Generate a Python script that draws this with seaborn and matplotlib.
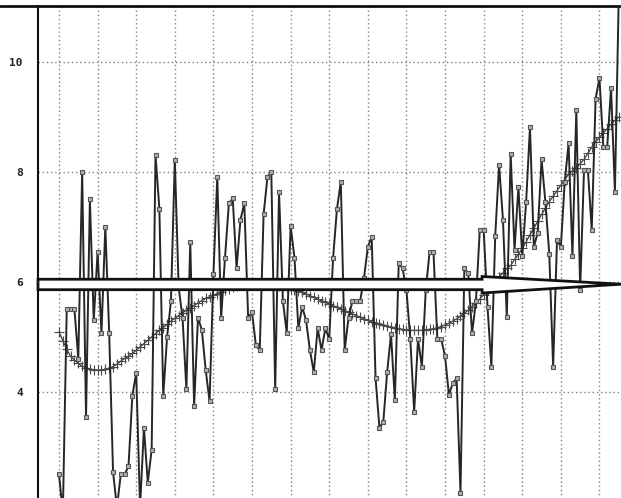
import numpy as np
import pandas as pd
import matplotlib
matplotlib.use("Agg")
import matplotlib.pyplot as plt
from matplotlib.patches import Polygon
from matplotlib.lines import Line2D
import seaborn as sns

# ---- data ----
values = [
    2.5, 1.8, 5.5, 5.5, 5.5, 4.6, 8.0, 3.55, 7.5, 5.3,
    6.55, 5.07, 7.0, 5.07, 2.55, 1.9, 2.5, 2.5, 2.65, 3.93,
    4.35, 1.9, 3.35, 2.35, 2.95, 8.31, 7.33, 3.93, 5.0, 5.65,
    8.22, 5.9, 5.35, 4.05, 6.73, 3.75, 5.35, 5.13, 4.4, 3.83,
    6.14, 7.91, 5.35, 6.44, 7.43, 7.52, 6.25, 7.13, 7.43, 5.35,
    5.45, 4.85, 4.76, 7.23, 7.91, 8.0, 4.05, 7.63, 5.65, 5.07,
    7.02, 6.44, 5.16, 5.55, 5.3, 4.76, 4.36, 5.16, 4.76, 5.16,
    4.96, 6.44, 7.33, 7.82, 4.76, 5.35, 5.65, 5.65, 5.65, 6.07,
    6.64, 6.82, 4.25, 3.35, 3.45, 4.36, 5.05, 3.85, 6.34, 6.25,
    5.85, 4.96, 3.64, 4.96, 4.46, 5.85, 6.55, 6.55, 4.96, 4.96,
    4.65, 3.95, 4.16, 4.25, 2.16, 6.25, 6.16, 5.07, 5.65, 6.95,
    6.95, 5.55, 4.46, 6.84, 8.13, 7.13, 5.36, 8.33, 6.58, 7.73,
    6.47, 7.45, 8.82, 6.64, 6.89, 8.23, 7.45, 6.51, 4.46, 6.76,
    6.64, 7.82, 8.52, 6.47, 9.13, 5.85, 8.04, 8.04, 6.95, 9.33,
    9.71, 8.45, 8.45, 9.53, 7.64, 11.2,
]
trend = [
    5.09, 4.93, 4.78, 4.65, 4.58, 4.52, 4.47, 4.44, 4.42, 4.40,
    4.40, 4.40, 4.41, 4.43, 4.46, 4.51, 4.56, 4.61, 4.65, 4.70,
    4.76, 4.82, 4.88, 4.94, 5.00, 5.06, 5.12, 5.17, 5.23, 5.29,
    5.34, 5.39, 5.44, 5.49, 5.53, 5.57, 5.62, 5.66, 5.70, 5.73,
    5.76, 5.79, 5.82, 5.85, 5.88, 5.90, 5.92, 5.94, 5.95, 5.96,
    5.97, 5.97, 5.97, 5.97, 5.96, 5.95, 5.94, 5.93, 5.92, 5.90,
    5.88, 5.86, 5.84, 5.81, 5.78, 5.75, 5.72, 5.69, 5.66, 5.63,
    5.60, 5.57, 5.54, 5.51, 5.48, 5.45, 5.42, 5.39, 5.36, 5.33,
    5.30, 5.28, 5.26, 5.24, 5.22, 5.20, 5.18, 5.17, 5.15, 5.14,
    5.13, 5.12, 5.12, 5.12, 5.12, 5.13, 5.14, 5.15, 5.17, 5.19,
    5.22, 5.25, 5.29, 5.33, 5.38, 5.43, 5.49, 5.55, 5.62, 5.69,
    5.77, 5.85, 5.93, 6.01, 6.09, 6.17, 6.25, 6.30, 6.41, 6.50,
    6.61, 6.73, 6.86, 6.98, 7.10, 7.23, 7.34, 7.46, 7.56, 7.66,
    7.76, 7.86, 7.96, 8.02, 8.08, 8.15, 8.23, 8.34, 8.45, 8.55,
    8.63, 8.71, 8.79, 8.87, 8.94, 9.00,
]
ytick_values = [2, 4, 6, 8, 10]
ytick_labels = ["2", "4", "6", "8", "10"]
arrow_level = 6.0

idx = np.arange(len(values))
df = pd.DataFrame({"i": idx, "value": values, "trend": trend})

sns.set_style("white")
plt.rcParams["font.family"] = ["DejaVu Sans Mono", "DejaVu Sans"]

W, H = 621, 498
fig = plt.figure(figsize=(W / 100, H / 100), dpi=100)
ax = fig.add_axes([38 / W, 1 - 529.5 / H, (640 - 38) / W, 523.5 / H])

sns.lineplot(data=df, x="i", y="value", ax=ax, color="#262626", lw=1.4,
             marker="s", markersize=3.3, markerfacecolor="#b0b0b0",
             markeredgecolor="#555555", markeredgewidth=0.8, zorder=3)
sns.lineplot(data=df, x="i", y="trend", ax=ax, color="#3a3a3a", lw=0.9,
             marker="+", markersize=6.5, markeredgewidth=0.8,
             markeredgecolor="#4a4a4a", zorder=2)

ax.set_xlim(-5.44, 150.5)
ax.set_ylim(1.5, 11.018)

ax.set_xticks(np.arange(0, 150, 10))
ax.set_yticks(ytick_values)
ax.set_yticklabels(ytick_labels)
ax.set_yticks(np.arange(2, 11.01, 0.5), minor=True)
ax.tick_params(axis="x", length=0, labelbottom=False)
ax.tick_params(axis="y", which="major", direction="in", length=11, width=1.3,
               pad=11, labelsize=8, colors="#222222")
ax.tick_params(axis="y", which="minor", direction="in", length=5.5, width=1.2,
               color="#222222")
for lab in ax.get_yticklabels():
    lab.set_fontweight("bold")

ax.grid(True, axis="both", which="major", color="#808080", lw=1.0,
        linestyle=(0, (1, 2)))
ax.set_axisbelow(True)
ax.set_xlabel("")
ax.set_ylabel("")

for s in ["right", "bottom"]:
    ax.spines[s].set_visible(False)
ax.spines["left"].set_linewidth(1.5)
ax.spines["left"].set_color("#111111")
ax.spines["top"].set_linewidth(2.0)
ax.spines["top"].set_color("#111111")

# big white arrow
x0, xb, xt = -5.44, 109.6, 145.6
arrow = Polygon([(x0, arrow_level + 0.05), (xb, arrow_level + 0.05),
                 (xb, arrow_level + 0.10), (xt, arrow_level - 0.04),
                 (xb, arrow_level - 0.20), (xb, arrow_level - 0.14),
                 (x0, arrow_level - 0.14)],
                closed=True, facecolor="white", edgecolor="#111111",
                lw=2.0, zorder=5, clip_on=False)
ax.add_patch(arrow)

fig.add_artist(Line2D([0, 38 / W], [1 - 6 / H, 1 - 6 / H], color="#111111", lw=2.0))

fig.savefig("out.png", dpi=100, facecolor="white")
